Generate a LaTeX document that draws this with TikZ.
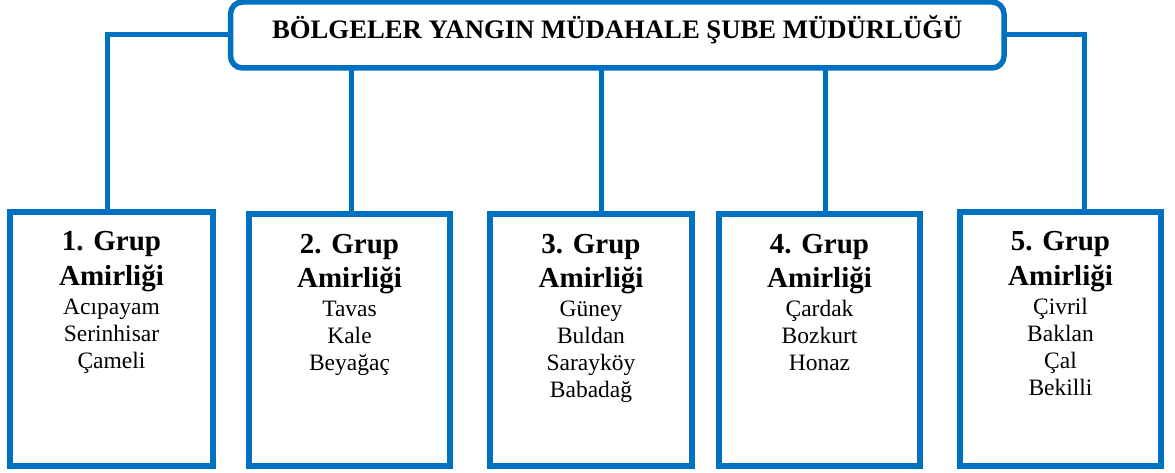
\documentclass[tikz,border=0pt]{standalone}
\usepackage{fontspec}
\setmainfont{Liberation Serif}
\definecolor{blu}{HTML}{0070C0}
\tikzset{
  topbox/.style={draw=blu, line width=5.5pt, rounded corners=12pt, fill=white,
    minimum width=773.5pt, minimum height=66pt, inner sep=0pt, outer sep=0pt,
    text height=18pt, text depth=10pt,
    font=\fontsize{26.7}{30}\selectfont\bfseries},
  grpbox/.style={draw=blu, line width=6pt, fill=white, inner sep=0pt, outer sep=0pt},
  conn/.style={draw=blu, line width=5pt},
  gtitle/.style={anchor=base, inner sep=0pt, font=\fontsize{29}{32}\selectfont\bfseries},
  gbody/.style={anchor=base, inner sep=0pt, font=\fontsize{23.5}{27}\selectfont},
}
\begin{document}
\begin{tikzpicture}[x=1pt,y=-1pt]
\useasboundingbox (0,0) rectangle (1175,473);

% connector columns
\coordinate (cL) at (107,0);
\coordinate (c2) at (351,0);
\coordinate (c3) at (601,0);
\coordinate (c4) at (825,0);
\coordinate (cR) at (1084.5,0);

% top box
\node[topbox] (top) at (617.25,35) {BÖLGELER YANGIN MÜDAHALE ŞUBE MÜDÜRLÜĞÜ};

% group boxes
\node[grpbox, minimum width=203pt, minimum height=253.5pt] (b1) at (111.5,338.75) {};
\node[grpbox, minimum width=201pt, minimum height=251.5pt] (b2) at (349.5,339.75) {};
\node[grpbox, minimum width=202pt, minimum height=251.5pt] (b3) at (591,339.75) {};
\node[grpbox, minimum width=201pt, minimum height=251.5pt] (b4) at (819.5,339.75) {};
\node[grpbox, minimum width=201pt, minimum height=253.5pt] (b5) at (1060.5,338.75) {};

% connectors
\draw[conn] (top.west) -| (cL |- b1.north);
\draw[conn] (top.east) -| (cR |- b5.north);
\draw[conn] (c2 |- top.south) -- (c2 |- b2.north);
\draw[conn] (c3 |- top.south) -- (c3 |- b3.north);
\draw[conn] (c4 |- top.south) -- (c4 |- b4.north);

% box 1
\node[gtitle] (t1a) at (111.5,251) {1. Grup};
\node[gtitle] (t1b) at (111.5,285) {Amirliği};
\node[gbody] (t1c) at (111.5,314) {Acıpayam};
\node[gbody] (t1d) at (111.5,341) {Serinhisar};
\node[gbody] (t1e) at (111.5,368) {Çameli};

% box 2
\node[gtitle] (t2a) at (349.5,253) {2. Grup};
\node[gtitle] (t2b) at (349.5,287) {Amirliği};
\node[gbody] (t2c) at (349.5,316) {Tavas};
\node[gbody] (t2d) at (349.5,343) {Kale};
\node[gbody] (t2e) at (349.5,370) {Beyağaç};

% box 3
\node[gtitle] (t3a) at (591,253) {3. Grup};
\node[gtitle] (t3b) at (591,287) {Amirliği};
\node[gbody] (t3c) at (591,316) {Güney};
\node[gbody] (t3d) at (591,343) {Buldan};
\node[gbody] (t3e) at (591,370) {Sarayköy};
\node[gbody] (t3f) at (591,397) {Babadağ};

% box 4
\node[gtitle] (t4a) at (819.5,253) {4. Grup};
\node[gtitle] (t4b) at (819.5,287) {Amirliği};
\node[gbody] (t4c) at (819.5,316) {Çardak};
\node[gbody] (t4d) at (819.5,343) {Bozkurt};
\node[gbody] (t4e) at (819.5,370) {Honaz};

% box 5
\node[gtitle] (t5a) at (1060.5,251) {5. Grup};
\node[gtitle] (t5b) at (1060.5,285) {Amirliği};
\node[gbody] (t5c) at (1060.5,314) {Çivril};
\node[gbody] (t5d) at (1060.5,341) {Baklan};
\node[gbody] (t5e) at (1060.5,368) {Çal};
\node[gbody] (t5f) at (1060.5,395) {Bekilli};
\end{tikzpicture}
\end{document}
